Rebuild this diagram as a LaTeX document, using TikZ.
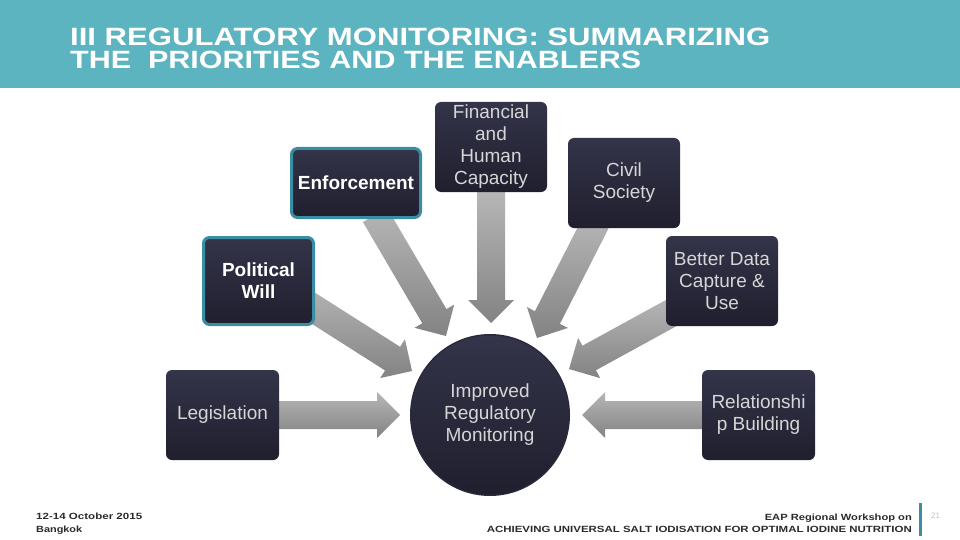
\documentclass[tikz,border=0pt]{standalone}
\usepackage{fontspec}
\setmainfont{Liberation Sans}
\usetikzlibrary{calc,shapes.geometric,backgrounds}
\definecolor{band}{HTML}{5BB4C0}
\definecolor{tealb}{HTML}{3A8DA2}
\definecolor{boxtop}{HTML}{34344A}
\definecolor{boxbot}{HTML}{1F1F2E}
\definecolor{boxmid}{HTML}{29293C}
\definecolor{boxtext}{HTML}{D6D6D6}
\definecolor{arrlight}{HTML}{B6B6B6}
\definecolor{arrdark}{HTML}{838383}
\definecolor{foot}{HTML}{2A2A2A}
\definecolor{pagenum}{HTML}{C0C0C0}
% block arrow from #1 (start) to #2 (tip)
\newcommand\blockarr[2]{%
  \coordinate (hb) at ($(#2)!23pt!(#1)$);
  \path[arrowfill] ($(#1)!14pt!90:(#2)$) -- ($(hb)!14pt!90:(#2)$) -- ($(hb)!23pt!90:(#2)$)
    -- (#2) -- ($(hb)!23pt!-90:(#2)$) -- ($(hb)!14pt!-90:(#2)$) -- ($(#1)!14pt!-90:(#2)$) -- cycle;}
\begin{document}
\begin{tikzpicture}[x=1pt,y=-1pt,
  box/.style={rectangle, rounded corners=6pt, top color=boxtop, bottom color=boxbot,
    minimum width=113pt, minimum height=90pt, inner sep=0pt, align=center,
    text=boxtext, font=\fontsize{19}{22}\selectfont},
  keybox/.style={box, draw=tealb, line width=3pt, text=white,
    font=\fontsize{19}{22}\selectfont\bfseries},
  hub/.style={ellipse, minimum width=160pt,
    minimum height=162pt, inner sep=0pt, align=center, text=boxtext,
    font=\fontsize{19}{22}\selectfont},
  arrowfill/.style={top color=arrlight, bottom color=arrdark},
  titletext/.style={anchor=base west, inner sep=0pt, text=white,
    font=\fontsize{25}{30}\selectfont\bfseries},
  foottext/.style={inner sep=0pt, text=foot, font=\fontsize{9}{11}\selectfont\bfseries}]
\useasboundingbox (0,0) rectangle (960,540);
% header band
\fill[band] (0,0) rectangle (960,88);
\node[titletext] (t1) at (70,45.5) {\resizebox{700pt}{\height}{III REGULATORY MONITORING: SUMMARIZING}};
\node[titletext] (t2) at (70,68.5) {\resizebox{571pt}{\height}{THE\ \ PRIORITIES AND THE ENABLERS}};
% nodes
\node[keybox, minimum width=129pt, minimum height=69pt] (enf) at (356,183) {Enforcement};
\node[box, minimum width=112pt] (fin) at (491,147) {Financial\\and\\Human\\Capacity};
\node[box, minimum width=112pt] (civ) at (624,183) {Civil\\Society};
\node[keybox, minimum width=110pt, minimum height=87pt] (pw) at (258.5,281) {Political\\Will};
\node[box, minimum width=112pt] (bd) at (722,281) {Better Data\\Capture \&\\Use};
\node[box] (leg) at (222.5,415) {Legislation};
\node[box] (rel) at (758.5,415) {Relationshi\\p Building};
\node[hub] (imp) at (490,415) {Improved\\Regulatory\\Monitoring};
% arrow ends
\coordinate (sEnf) at ($(enf.south)+(19,-4)$);
\coordinate (tEnf) at (446,336);
\coordinate (sPw) at ($(pw.center)+(32.5,13)$);
\coordinate (tPw) at (412,371);
\coordinate (tFin) at (491,323);
\coordinate (sCiv) at ($(civ.south)+(-28,-6)$);
\coordinate (tCiv) at (537,338);
\coordinate (sBd) at ($(bd.west)+(11,29)$);
\coordinate (tBd) at (569,369);
\coordinate (tLeg) at (400,415);
\coordinate (tRel) at (582,415);
\begin{pgfonlayer}{background}
\blockarr{sEnf}{tEnf}
\blockarr{sPw}{tPw}
\blockarr{fin.south}{tFin}
\blockarr{sCiv}{tCiv}
\blockarr{sBd}{tBd}
\blockarr{leg.east}{tLeg}
\blockarr{rel.west}{tRel}
\fill[boxmid] (imp.center) ellipse [x radius=80pt, y radius=81pt];
\path[top color=boxtop, bottom color=boxbot] (imp.center) ellipse [x radius=78.5pt, y radius=79.5pt];
\end{pgfonlayer}
% footer
\node[foottext, anchor=base west] (d1) at (36,519.5) {\resizebox{106pt}{\height}{12-14 October 2015}};
\node[foottext, anchor=base west] (d2) at (36,532) {\resizebox{46pt}{\height}{Bangkok}};
\node[foottext, anchor=base east] (w1) at (912,520) {\resizebox{147pt}{\height}{EAP Regional Workshop on}};
\node[foottext, anchor=base east] (w2) at (912,532.5) {\resizebox{425pt}{\height}{ACHIEVING UNIVERSAL SALT IODISATION FOR OPTIMAL IODINE NUTRITION}};
\fill[tealb] (919,503) rectangle (922,536);
\node[anchor=base west, inner sep=0pt, text=pagenum, font=\fontsize{8}{9}\selectfont] (pg) at (931,518) {21};
\end{tikzpicture}
\end{document}
